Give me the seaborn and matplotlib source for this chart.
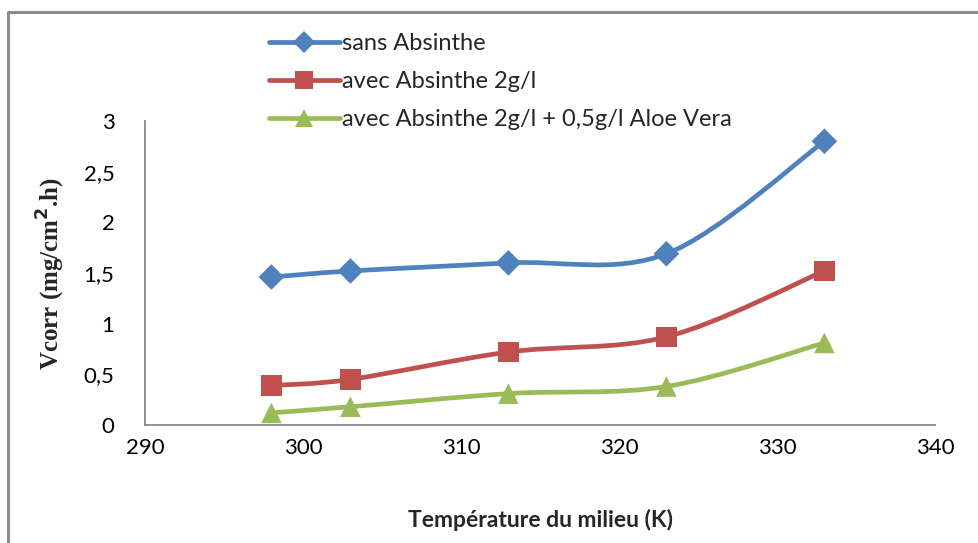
import numpy as np
import pandas as pd
import matplotlib
matplotlib.use("Agg")
import matplotlib.pyplot as plt
import seaborn as sns
from matplotlib.path import Path
from matplotlib.patches import PathPatch
from matplotlib.lines import Line2D

temperature = [298, 303, 313, 323, 333]
sans_absinthe = [1.46, 1.52, 1.60, 1.69, 2.80]
avec_absinthe = [0.39, 0.45, 0.72, 0.87, 1.52]
avec_absinthe_aloe = [0.12, 0.18, 0.31, 0.38, 0.81]
series_names = ["sans Absinthe", "avec Absinthe 2g/l",
                "avec Absinthe 2g/l + 0,5g/l Aloe Vera"]
x_ticks = [290, 300, 310, 320, 330, 340]
y_ticks = [0, 0.5, 1, 1.5, 2, 2.5, 3]
y_tick_labels = ["0", "0,5", "1", "1,5", "2", "2,5", "3"]

colors = ["#4F81BD", "#C0504D", "#9BBB59"]
markers = ["D", "s", "^"]
msizes = [170, 220, 220]

df = pd.DataFrame({
    "T": temperature * 3,
    "V": sans_absinthe + avec_absinthe + avec_absinthe_aloe,
    "serie": [series_names[0]] * 5 + [series_names[1]] * 5 + [series_names[2]] * 5,
})

sns.set_style("white")
plt.rcParams["font.family"] = ["Lato", "DejaVu Sans"]

fig = plt.figure(figsize=(9.79, 5.43), dpi=100)
ax = fig.add_axes([145 / 979, 1 - 425 / 543, (935 - 145) / 979, (425 - 121) / 543])


def smooth_path(xs, ys):
    pts = np.column_stack([xs, ys]).astype(float)
    n = len(pts)
    verts = [pts[0]]
    codes = [Path.MOVETO]
    for i in range(n - 1):
        p0 = pts[i - 1] if i > 0 else pts[i]
        p1 = pts[i]
        p2 = pts[i + 1]
        p3 = pts[i + 2] if i + 2 < n else pts[i + 1]
        c1 = p1 + (p2 - p0) / 6.0
        c2 = p2 - (p3 - p1) / 6.0
        verts += [c1, c2, p2]
        codes += [Path.CURVE4] * 3
    return Path(verts, codes)


for name, col in zip(series_names, colors):
    sub = df[df["serie"] == name]
    patch = PathPatch(smooth_path(sub["T"].values, sub["V"].values),
                      facecolor="none", edgecolor=col, lw=3.4,
                      capstyle="round", joinstyle="round", zorder=2)
    ax.add_patch(patch)

sns.scatterplot(data=df, x="T", y="V", hue="serie", style="serie",
                palette=dict(zip(series_names, colors)),
                markers=dict(zip(series_names, markers)),
                size="serie", sizes=dict(zip(series_names, msizes)),
                edgecolor="none", linewidth=0, legend=False, ax=ax, zorder=3,
                clip_on=False)

ax.set_xlim(290, 340)
ax.set_ylim(0, 3)
ax.set_xticks(x_ticks)
ax.set_xticklabels([str(t) for t in x_ticks])
ax.set_yticks(y_ticks)
ax.set_yticklabels(y_tick_labels)
for s in ["top", "right"]:
    ax.spines[s].set_visible(False)
for s in ["left", "bottom"]:
    ax.spines[s].set_color("#868686")
    ax.spines[s].set_linewidth(1.3)
ax.tick_params(axis="both", direction="in", length=7, width=1.2, color="#868686",
               labelsize=16, labelcolor="black")
ax.tick_params(axis="x", pad=9)
ax.tick_params(axis="y", pad=22)

ax.set_xlabel("Température du milieu (K)", fontsize=16.5, fontweight="bold",
              labelpad=37)
ax.set_ylabel("Vcorr (mg/cm$^\\mathbf{2}$.h)", fontsize=18, fontweight="bold",
              family=["Liberation Serif"], labelpad=12)

handles = [Line2D([0], [0], color=c, lw=3.4, marker=m,
                  markersize=ms, markeredgewidth=0)
           for c, m, ms in zip(colors, markers, [11, 13, 13])]
fig.legend(handles, series_names, loc="upper left",
           bbox_to_anchor=(269 / 979, 1 - 33 / 543), frameon=False,
           fontsize=17, handlelength=3.0, handletextpad=0.1,
           labelspacing=0.72, borderaxespad=0, borderpad=0)

# outer frame (left and top only)
fig.add_artist(Line2D([8 / 979, 8 / 979, 1.0], [0.0, 1 - 12 / 543, 1 - 12 / 543],
                      transform=fig.transFigure, color="#8c8c8c", lw=2.2))

fig.savefig("out.png", dpi=100, facecolor="white")
